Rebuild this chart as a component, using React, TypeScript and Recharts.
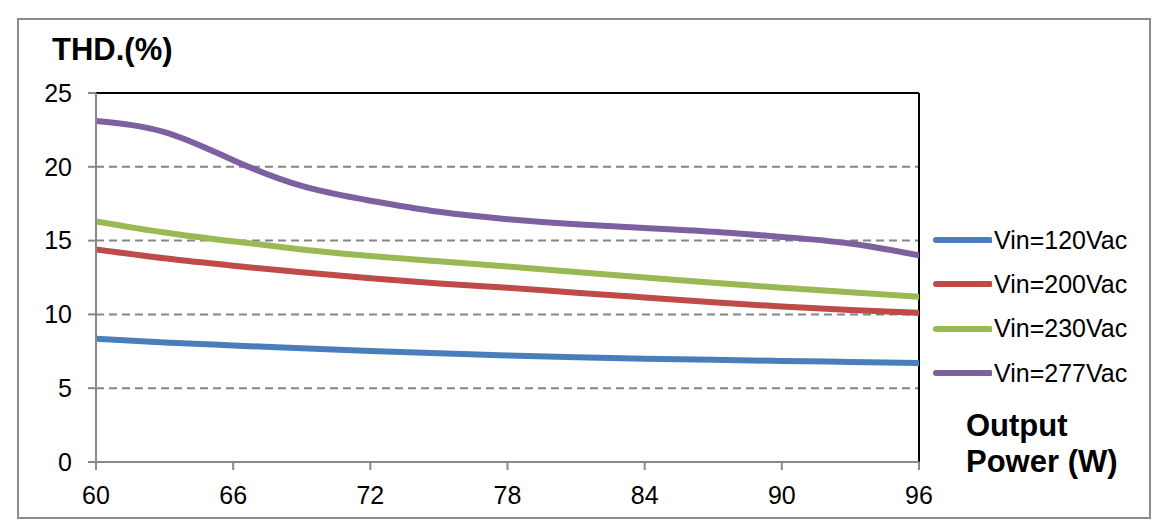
import React from 'react'
import { LineChart, Line, XAxis, YAxis, ReferenceLine } from 'recharts'

// output power (W)
const power = [60, 63, 66, 69, 72, 75, 78, 81, 84, 87, 90, 93, 96]

// THD (%) per input voltage
const vin120 = [8.35, 8.1, 7.9, 7.7, 7.52, 7.36, 7.22, 7.1, 7.0, 6.92, 6.85, 6.78, 6.7]
const vin200 = [14.4, 13.8, 13.3, 12.85, 12.45, 12.1, 11.8, 11.47, 11.15, 10.83, 10.53, 10.3, 10.1]
const vin230 = [16.3, 15.55, 14.95, 14.4, 13.95, 13.6, 13.25, 12.87, 12.5, 12.15, 11.8, 11.5, 11.2]
const vin277 = [23.1, 22.35, 20.45, 18.7, 17.7, 16.95, 16.45, 16.1, 15.85, 15.6, 15.25, 14.8, 14.0]

const xTicks = [60, 66, 72, 78, 84, 90, 96]
const yTicks = [0, 5, 10, 15, 20, 25]
const gridValues = [5, 10, 15, 20]

const series = [
  { key: 'v120', name: 'Vin=120Vac', color: '#4a7ebb', values: vin120 },
  { key: 'v200', name: 'Vin=200Vac', color: '#be4b48', values: vin200 },
  { key: 'v230', name: 'Vin=230Vac', color: '#98b954', values: vin230 },
  { key: 'v277', name: 'Vin=277Vac', color: '#7d60a0', values: vin277 },
]

const data = power.map((x, i) => {
  const row: Record<string, number> = { x }
  series.forEach((s) => {
    row[s.key] = s.values[i]
  })
  return row
})

const FONT = '"Liberation Sans", Arial, sans-serif'

function LegendBox() {
  return (
    <div style={{ position: 'absolute', left: 930, top: 218, fontFamily: FONT }}>
      {series.map((s) => (
        <div key={s.key} style={{ height: 44.3, display: 'flex', alignItems: 'center' }}>
          <svg width={62} height={10}>
            <line x1={6} y1={5} x2={60} y2={5} stroke={s.color} strokeWidth={6} strokeLinecap="round" />
          </svg>
          <span style={{ fontSize: 25, color: '#000', marginLeft: 2 }}>{s.name}</span>
        </div>
      ))}
    </div>
  )
}

export default function App() {
  return (
    <div style={{ position: 'absolute', left: 0, top: 0, width: 1168, height: 530, background: '#fff' }}>
      <div
        style={{
          position: 'absolute',
          left: 17,
          top: 18,
          width: 1134,
          height: 501,
          border: '2px solid #8c8c8c',
          boxSizing: 'border-box',
        }}
      />
      <LineChart
        width={1168}
        height={530}
        data={data}
        margin={{ top: 93, right: 249, bottom: 18, left: 16 }}
        style={{ position: 'absolute', left: 0, top: 0 }}
      >
        {gridValues.map((v) => (
          <ReferenceLine key={v} y={v} stroke="#858585" strokeWidth={2} strokeDasharray="8 5" />
        ))}
        <ReferenceLine y={25} stroke="#000" strokeWidth={2} />
        <ReferenceLine x={96} stroke="#000" strokeWidth={2} />
        <XAxis
          dataKey="x"
          type="number"
          domain={[60, 96]}
          ticks={xTicks}
          height={50}
          tickSize={8}
          tickMargin={16}
          axisLine={{ stroke: '#888', strokeWidth: 2 }}
          tickLine={{ stroke: '#888', strokeWidth: 2 }}
          tick={{ fill: '#000', fontSize: 25, fontFamily: FONT }}
          allowDataOverflow
        />
        <YAxis
          type="number"
          domain={[0, 25]}
          ticks={yTicks}
          width={80}
          tickSize={8}
          tickMargin={16}
          axisLine={{ stroke: '#888', strokeWidth: 2 }}
          tickLine={{ stroke: '#888', strokeWidth: 2 }}
          tick={{ fill: '#000', fontSize: 25, fontFamily: FONT }}
          allowDataOverflow
        />
        {series.map((s) => (
          <Line
            key={s.key}
            dataKey={s.key}
            name={s.name}
            type="natural"
            stroke={s.color}
            strokeWidth={6}
            strokeLinecap="round"
            dot={false}
            activeDot={false}
            isAnimationActive={false}
          />
        ))}
      </LineChart>
      <LegendBox />
      <svg
        width={1168}
        height={530}
        style={{ position: 'absolute', left: 0, top: 0, pointerEvents: 'none' }}
      >
        <text x={52} y={60} fontFamily={FONT} fontSize={31} fontWeight="bold" fill="#000">
          THD.(%)
        </text>
        <text x={966} y={436} fontFamily={FONT} fontSize={31} fontWeight="bold" fill="#000">
          Output
        </text>
        <text x={966} y={472} fontFamily={FONT} fontSize={31} fontWeight="bold" fill="#000">
          Power (W)
        </text>
      </svg>
    </div>
  )
}
